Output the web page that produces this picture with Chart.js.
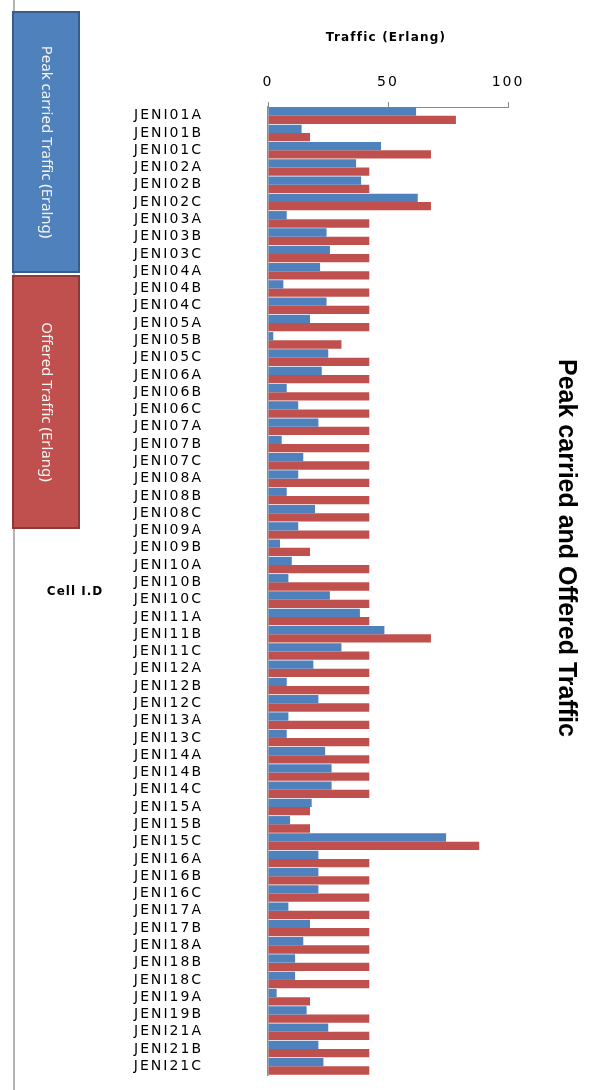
<!DOCTYPE html>
<html>
<head>
<meta charset="utf-8">
<title>Peak carried and Offered Traffic</title>
<script src="https://cdn.jsdelivr.net/npm/chart.js@4.4.1/dist/chart.umd.min.js"></script>
<style>
  html, body { margin: 0; padding: 0; background: #fff; }
  #wrap { position: relative; width: 603px; height: 1090px; }
</style>
</head>
<body>
<div id="wrap"><canvas id="trafficChart"></canvas></div>
<script>
// === Data ===
const cells = [
  "JENI01A", "JENI01B", "JENI01C", "JENI02A", "JENI02B", "JENI02C",
  "JENI03A", "JENI03B", "JENI03C", "JENI04A", "JENI04B", "JENI04C",
  "JENI05A", "JENI05B", "JENI05C", "JENI06A", "JENI06B", "JENI06C",
  "JENI07A", "JENI07B", "JENI07C", "JENI08A", "JENI08B", "JENI08C",
  "JENI09A", "JENI09B", "JENI10A", "JENI10B", "JENI10C", "JENI11A",
  "JENI11B", "JENI11C", "JENI12A", "JENI12B", "JENI12C", "JENI13A",
  "JENI13C", "JENI14A", "JENI14B", "JENI14C", "JENI15A", "JENI15B",
  "JENI15C", "JENI16A", "JENI16B", "JENI16C", "JENI17A", "JENI17B",
  "JENI18A", "JENI18B", "JENI18C", "JENI19A", "JENI19B", "JENI21A",
  "JENI21B", "JENI21C"
];

const peakCarried = [
  61.7, 14.0, 47.1, 36.7, 38.8, 62.4,
  7.8, 24.4, 25.8, 21.7, 6.4, 24.4,
  17.5, 2.2, 25.1, 22.4, 7.8, 12.6,
  21.0, 5.7, 14.7, 12.6, 7.8, 19.6,
  12.6, 5.0, 9.9, 8.5, 25.8, 38.3,
  48.5, 30.6, 18.9, 7.8, 21.0, 8.5,
  7.8, 23.8, 26.5, 26.5, 18.2, 9.2,
  74.2, 21.0, 21.0, 21.0, 8.5, 17.5,
  14.7, 11.3, 11.3, 3.6, 16.1, 25.1,
  21.0, 23.1
];

const offered = [
  78.3, 17.5, 67.9, 42.2, 42.2, 67.9,
  42.2, 42.2, 42.2, 42.2, 42.2, 42.2,
  42.2, 30.6, 42.2, 42.2, 42.2, 42.2,
  42.2, 42.2, 42.2, 42.2, 42.2, 42.2,
  42.2, 17.5, 42.2, 42.2, 42.2, 42.2,
  67.9, 42.2, 42.2, 42.2, 42.2, 42.2,
  42.2, 42.2, 42.2, 42.2, 17.5, 17.5,
  88.0, 42.2, 42.2, 42.2, 42.2, 42.2,
  42.2, 42.2, 42.2, 17.5, 42.2, 42.2,
  42.2, 42.2
];

const seriesNames = ["Peak carried Traffic (Eralng)", "Offered Traffic (Erlang)"];
const xTicks = [0, 50, 100];
const chartTitle = "Peak carried and Offered Traffic";
const xTitle = "Traffic (Erlang)";
const yTitle = "Cell I.D";

// === Colours ===
const BLUE = "#4f81bd", BLUE_EDGE = "#385d8a";
const RED = "#c0504d", RED_EDGE = "#8c3836";
const AXIS = "#8a8a8a";

// === Extra drawing: left rule, rotated legend boxes, titles ===
const decorations = {
  id: "decorations",
  beforeDraw(chart) {
    const c = chart.ctx;
    c.save();
    c.strokeStyle = "#9a9a9a";
    c.lineWidth = 1.5;
    c.beginPath();
    c.moveTo(14, 0);
    c.lineTo(14, 1090);
    c.stroke();
    c.restore();
    // wide-looking tick labels, like the original picture
    c.letterSpacing = "2px";
  },
  afterDraw(chart) {
    const c = chart.ctx;
    c.letterSpacing = "0px";
    const ds = chart.data.datasets;

    // legend boxes, text reading top to bottom
    const boxes = [
      { y0: 12, y1: 272, fill: BLUE, edge: BLUE_EDGE, text: ds[0].label },
      { y0: 276, y1: 528, fill: RED, edge: RED_EDGE, text: ds[1].label }
    ];
    boxes.forEach(b => {
      c.save();
      c.fillStyle = b.fill;
      c.strokeStyle = b.edge;
      c.lineWidth = 2;
      c.fillRect(13, b.y0, 66, b.y1 - b.y0);
      c.strokeRect(13, b.y0, 66, b.y1 - b.y0);
      c.translate(46, (b.y0 + b.y1) / 2);
      c.rotate(Math.PI / 2);
      c.fillStyle = "#f4f4f4";
      c.font = "15px 'Noto Sans'";
      c.textAlign = "center";
      c.textBaseline = "middle";
      c.fillText(b.text, 0, 0);
      c.restore();
    });

    // big title on the right
    c.save();
    c.translate(566, 548);
    c.rotate(Math.PI / 2);
    c.fillStyle = "#000";
    c.font = "bold 25px 'Liberation Sans'";
    c.textAlign = "center";
    c.textBaseline = "middle";
    c.fillText(chartTitle, 0, 0);
    c.restore();

    // axis titles
    c.save();
    c.fillStyle = "#000";
    c.textAlign = "center";
    c.textBaseline = "middle";
    c.letterSpacing = "1.2px";
    c.font = "bold 12px 'DejaVu Sans'";
    c.fillText(xTitle, 386, 38);
    c.letterSpacing = "1px";
    c.fillText(yTitle, 75, 592);
    c.restore();
  }
};

// === Chart ===
const ctx = document.getElementById("trafficChart").getContext("2d");
const chart = new Chart(ctx, {
  type: "bar",
  data: {
    labels: cells,
    datasets: [
      {
        label: seriesNames[0],
        data: peakCarried,
        backgroundColor: BLUE,
        borderWidth: 0,
        barPercentage: 1.0,
        categoryPercentage: 0.96
      },
      {
        label: seriesNames[1],
        data: offered,
        backgroundColor: RED,
        borderWidth: 0,
        barPercentage: 1.0,
        categoryPercentage: 0.96
      }
    ]
  },
  options: {
    indexAxis: "y",
    responsive: true,
    maintainAspectRatio: false,
    animation: false,
    layout: { padding: { left: 0, top: 0, right: 95, bottom: 15 } },
    plugins: {
      legend: { display: false },
      title: { display: false },
      tooltip: { enabled: false }
    },
    scales: {
      x: {
        position: "top",
        min: 0,
        max: 100,
        afterBuildTicks: scale => { scale.ticks = xTicks.map(v => ({ value: v })); },
        afterFit: scale => { scale.height = 107; },
        ticks: {
          color: "#000",
          font: { family: "'DejaVu Sans'", size: 14 },
          padding: 11
        },
        grid: {
          drawOnChartArea: false,
          drawTicks: true,
          tickLength: 5,
          color: AXIS
        },
        border: { display: true, color: AXIS, width: 1 },
        title: { display: false, text: xTitle }
      },
      y: {
        afterFit: scale => {
          scale.width = 268;
          // the big tick padding should not push the plot edges in
          scale.paddingTop = 0;
          scale.paddingBottom = 0;
        },
        ticks: {
          autoSkip: false,
          color: "#000",
          font: { family: "'DejaVu Sans'", size: 14 },
          padding: 65
        },
        grid: { display: false, drawTicks: false },
        border: { display: true, color: AXIS, width: 1.5 },
        title: { display: false, text: yTitle }
      }
    }
  },
  plugins: [decorations]
});
</script>
</body>
</html>
